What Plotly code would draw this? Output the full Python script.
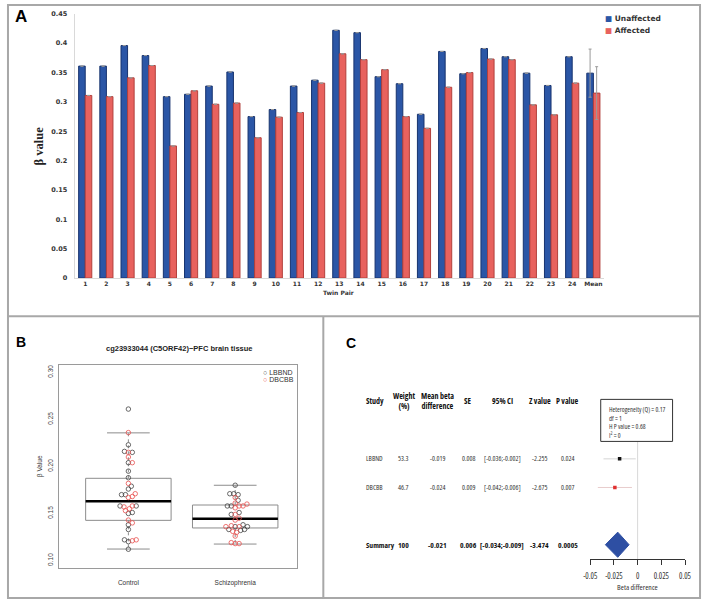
import numpy as np
import plotly.graph_objects as go

W, H = 708, 603
def fx(p): return p / W
def fy(p): return 1 - p / H

# ---------------- Panel A data ----------------
twin_pairs = [str(i) for i in range(1, 25)] + ["Mean"]
unaffected = [0.361, 0.361, 0.396, 0.379, 0.309, 0.313, 0.327, 0.351, 0.275, 0.287,
              0.327, 0.337, 0.422, 0.418, 0.343, 0.331, 0.279, 0.386, 0.348, 0.391,
              0.377, 0.349, 0.328, 0.377, 0.349]
affected = [0.311, 0.309, 0.341, 0.362, 0.225, 0.319, 0.296, 0.298, 0.239, 0.274,
            0.282, 0.332, 0.382, 0.372, 0.355, 0.275, 0.255, 0.325, 0.350, 0.373,
            0.372, 0.295, 0.278, 0.332, 0.315]
unaffected_err = [None] * 24 + [0.041]
affected_err = [None] * 24 + [0.045]
a_ytick_vals = [0, 0.05, 0.1, 0.15, 0.2, 0.25, 0.3, 0.35, 0.4, 0.45]
a_ytick_text = ["0", "0.05", "0.1", "0.15", "0.2", "0.25", "0.3", "0.35", "0.4", "0.45"]

# ---------------- Panel B data ----------------
b_groups = ["Control", "Schizophrenia"]
b_q1 = [0.1427, 0.1346]
b_median = [0.1630, 0.1444]
b_q3 = [0.1874, 0.1590]
b_low = [0.1122, 0.1175]
b_high = [0.2357, 0.1800]
control_lbbnd = [0.261, 0.223, 0.216, 0.215, 0.204, 0.195, 0.188, 0.179, 0.176, 0.170,
                 0.170, 0.158, 0.158, 0.151, 0.150, 0.138, 0.133, 0.122, 0.120, 0.112]
control_dbcbb = [0.236, 0.215, 0.210, 0.204, 0.182, 0.171, 0.168, 0.167, 0.158, 0.157,
                 0.155, 0.153, 0.143, 0.140, 0.122, 0.121]
scz_lbbnd = [0.180, 0.171, 0.170, 0.171, 0.164, 0.158, 0.158, 0.151, 0.149, 0.138,
             0.136, 0.136, 0.133, 0.133, 0.132]
scz_dbcbb = [0.167, 0.161, 0.160, 0.158, 0.158, 0.156, 0.149, 0.145, 0.143, 0.137,
             0.136, 0.136, 0.131, 0.130, 0.126, 0.119, 0.118, 0.118]
b_ytick_vals = [0.10, 0.15, 0.20, 0.25, 0.30]
b_ytick_text = ["0.10", "0.15", "0.20", "0.25", "0.30"]

# ---------------- Panel C data ----------------
c_studies = ["LBBND", "DBCBB"]
c_weight = ["53.3", "46.7"]
c_mean = [-0.019, -0.024]
c_se = ["0.008", "0.009"]
c_lo = [-0.036, -0.042]
c_hi = [-0.002, -0.006]
c_z = ["-2.255", "-2.675"]
c_p = ["0.024", "0.007"]
c_colors = ["#111111", "#e03030"]
c_ci_colors = ["#d4d4d4", "#e8cccc"]
sum_weight = "100"
sum_mean = -0.021
sum_se = "0.006"
sum_lo = -0.034
sum_hi = -0.009
sum_z = "-3.474"
sum_p = "0.0005"
c_xtick_vals = [-0.05, -0.025, 0, 0.025, 0.05]
c_xtick_text = ["-0.05", "-0.025", "0", "0.025", "0.05"]
het_lines = ["Heterogeneity (Q) = 0.17", "df = 1", "H P value = 0.68", "I<sup>2</sup> = 0"]

NARROW = "Open Sans, Liberation Sans, sans-serif"
ARIAL = "Liberation Sans, Arial, sans-serif"
VERD = "DejaVu Sans, Verdana, sans-serif"

def cond(t):
    return "<span style='font-stretch:condensed'>" + t + "</span>"

fig = go.Figure()

fig.add_trace(go.Bar(
    x=twin_pairs, y=unaffected, name="Unaffected", xaxis="x", yaxis="y",
    marker=dict(color="#2b56a6", line=dict(color="#17336e", width=1)),
    error_y=dict(type="data", array=unaffected_err, visible=True,
                 color="#9a9a9a", thickness=1, width=1.5), showlegend=False))
fig.add_trace(go.Bar(
    x=twin_pairs, y=affected, name="Affected", xaxis="x", yaxis="y",
    marker=dict(color="#e8625e", line=dict(color="#b2403c", width=1)),
    error_y=dict(type="data", array=affected_err, visible=True,
                 color="#9a9a9a", thickness=1, width=1.5), showlegend=False))

B_XPX = (296 - 53) / (2.58 - 0.35)
B_YPX = (572 - 366) / (0.3077 - 0.0916)

def swarm(vals, d=4.0):
    vals = np.asarray(vals, float)
    order = np.argsort(vals)
    placed = []
    offs = np.zeros(len(vals))
    for i in order:
        y = vals[i] * B_YPX
        found = None
        k = 0
        while found is None:
            cands = [0.0] if k == 0 else [k * 0.5, -k * 0.5]
            for x in cands:
                if all((x - px) ** 2 + (y - py) ** 2 >= d * d for px, py in placed):
                    found = x
                    break
            k += 1
        placed.append((found, y))
        offs[i] = found / B_XPX
    return offs

half = 0.4
cap = 0.2
bx, by, mx, my, wx, wy, cx, cy = [], [], [], [], [], [], [], []
for i in range(2):
    p = i + 1
    bx += [p - half, p + half, p + half, p - half, p - half, None]
    by += [b_q1[i], b_q1[i], b_q3[i], b_q3[i], b_q1[i], None]
    mx += [p - half, p + half, None]
    my += [b_median[i], b_median[i], None]
    wx += [p, p, None, p, p, None]
    wy += [b_q3[i], b_high[i], None, b_q1[i], b_low[i], None]
    cx += [p - cap, p + cap, None, p - cap, p + cap, None]
    cy += [b_high[i], b_high[i], None, b_low[i], b_low[i], None]

for xs, ys, ln in [(wx, wy, dict(color="#8c8c8c", width=1, dash="dot")),
                   (cx, cy, dict(color="#8c8c8c", width=1)),
                   (bx, by, dict(color="#8c8c8c", width=1)),
                   (mx, my, dict(color="#000000", width=2.6))]:
    fig.add_trace(go.Scatter(x=xs, y=ys, mode="lines", xaxis="x2", yaxis="y2", line=ln,
                             showlegend=False, hoverinfo="skip"))

ptsx = {"LBBND": [], "DBCBB": []}
ptsy = {"LBBND": [], "DBCBB": []}
for gi, (lb, db) in enumerate([(control_lbbnd, control_dbcbb), (scz_lbbnd, scz_dbcbb)]):
    allv = list(lb) + list(db)
    labs = ["LBBND"] * len(lb) + ["DBCBB"] * len(db)
    offs = swarm(allv)
    for v, lab, o in zip(allv, labs, offs):
        ptsx[lab].append(gi + 1 + o)
        ptsy[lab].append(v)

for lab, col in [("LBBND", "#444444"), ("DBCBB", "#e8504f")]:
    fig.add_trace(go.Scatter(
        x=ptsx[lab], y=ptsy[lab], mode="markers", name=lab, xaxis="x2", yaxis="y2",
        marker=dict(symbol="circle-open", size=4.5, color=col, line=dict(width=0.8, color=col)),
        showlegend=False))

c_rows = [3, 2]
for i in range(2):
    fig.add_trace(go.Scatter(x=[c_lo[i], c_hi[i]], y=[c_rows[i]] * 2, mode="lines",
                             xaxis="x3", yaxis="y3", line=dict(color=c_ci_colors[i], width=1),
                             showlegend=False, hoverinfo="skip"))
    fig.add_trace(go.Scatter(x=[c_mean[i]], y=[c_rows[i]], mode="markers",
                             xaxis="x3", yaxis="y3",
                             marker=dict(symbol="square", size=3.5, color=c_colors[i]),
                             showlegend=False, hoverinfo="skip"))
dh = 0.44
fig.add_trace(go.Scatter(x=[sum_lo, sum_mean, sum_hi, sum_mean, sum_lo],
                         y=[0, dh, 0, -dh, 0], mode="lines", fill="toself",
                         fillcolor="#2e4fa3", line=dict(color="#2e4fa3", width=1),
                         xaxis="x3", yaxis="y3", showlegend=False, hoverinfo="skip"))

annotations = []
def ann(text, x, y, size, color="#000", family=ARIAL, xanchor="center", yanchor="middle",
        xref="paper", yref="paper", angle=0, align="center", bold=False, narrow=False):
    if bold:
        text = "<b>" + text + "</b>"
    if narrow:
        text = cond(text)
    annotations.append(dict(text=text, x=x, y=y, xref=xref, yref=yref, showarrow=False,
                            xanchor=xanchor, yanchor=yanchor, textangle=angle, align=align,
                            font=dict(size=size, color=color, family=family)))

ann("A", fx(6), fy(13), 17, family=ARIAL, xanchor="left", bold=True)
ann("B", fx(7), fy(343), 14, family=ARIAL, xanchor="left", bold=True)
ann("C", fx(344), fy(344), 14, family=ARIAL, xanchor="left", bold=True)

ann("β value", fx(33), fy(144), 12.5, family="Liberation Serif, Times New Roman, serif",
    angle=-90, bold=True, color="#222")
ann("Twin Pair", fx(338), fy(292), 6, family=VERD, bold=True, color="#333")

# legend A
ann("<span style='color:#2b56a6'>\u25a0</span> Unaffected", fx(608), fy(15), 7.5, family=VERD,
    xanchor="left", bold=True, color="#333")
ann("<span style='color:#e8625e'>\u25a0</span> Affected", fx(608), fy(27), 7.5, family=VERD,
    xanchor="left", bold=True, color="#333")
# legend B
ann("<span style='color:#444'>\u25cb</span> LBBND", fx(259), fy(373), 7, xanchor="left", color="#333")
ann("<span style='color:#e8504f'>\u25cb</span> DBCBB", fx(259), fy(381), 7, xanchor="left", color="#333")

ann("cg23933044 (C5ORF42)\u2212PFC brain tissue", fx(176), fy(349), 7.5, bold=True, color="#222")
ann("\u03b2 Value", fx(33), fy(468), 6.5, angle=-90, color="#333")

hdr_y = fy(401.5)
col_x = [364, 405, 439, 470.5, 505, 543.5, 572]
headers = ["Study", "Weight<br>(%)", "Mean beta<br>difference", "SE", "95% CI", "Z value", "P value"]
for j, (hx, ht) in enumerate(zip(col_x, headers)):
    ann(ht, fx(hx), hdr_y, 8, family=NARROW, bold=True, narrow=True,
        xanchor="left" if j == 0 else "center", color="#111")
for i in range(2):
    vals = [c_studies[i], c_weight[i], "%.3f" % c_mean[i], c_se[i],
            "[%.3f;%.3f]" % (c_lo[i], c_hi[i]), c_z[i], c_p[i]]
    for j, (hx, v) in enumerate(zip(col_x, vals)):
        ann(v, fx(hx), c_rows[i], 7, family=NARROW, narrow=True,
            xanchor="left" if j == 0 else "center", yref="y3", color="#333")
svals = ["Summary", sum_weight, "%.3f" % sum_mean, sum_se,
         "[%.3f;%.3f]" % (sum_lo, sum_hi), sum_z, sum_p]
for j, (hx, v) in enumerate(zip(col_x, svals)):
    ann(v, fx(hx), 0, 7.6, family=NARROW, narrow=True, xanchor="left" if j == 0 else "center",
        yref="y3", bold=True, color="#111")
ann("Beta difference", fx(643), fy(591), 7.8, family=NARROW, narrow=True, color="#333")
ann("<br>".join(het_lines), fx(612), fy(404), 6.7, family=NARROW, narrow=True, xanchor="left",
    yanchor="top", align="left", color="#333")

shapes = [
    dict(type="rect", xref="paper", yref="paper", x0=fx(1), x1=fx(707), y0=fy(602), y1=fy(1),
         line=dict(color="#a8a8a8", width=2)),
    dict(type="line", xref="paper", yref="paper", x0=0, x1=1, y0=fy(316.5), y1=fy(316.5),
         line=dict(color="#a8a8a8", width=2)),
    dict(type="line", xref="paper", yref="paper", x0=fx(322.7), x1=fx(322.7), y0=0, y1=fy(316.5),
         line=dict(color="#a8a8a8", width=2)),
    dict(type="line", xref="x3", yref="y3 domain", x0=0, x1=0, y0=0, y1=1,
         line=dict(color="#d8d8d8", width=1), layer="below"),
    dict(type="rect", xref="paper", yref="paper", x0=fx(605.7), x1=fx(679), y0=fy(443.3), y1=fy(400.7),
         line=dict(color="#333333", width=1), fillcolor="white"),
]

fig.update_layout(
    width=W, height=H, margin=dict(l=0, r=0, t=0, b=0),
    paper_bgcolor="white", plot_bgcolor="rgba(0,0,0,0)",
    barmode="group", bargap=0.38, bargroupgap=0.0,
    showlegend=False,
    xaxis=dict(domain=[fx(69), fx(609)], range=[-0.5, 24.5], type="category",
               showline=True, linecolor="#d9d9d9", linewidth=1, ticks="",
               tickfont=dict(size=6, family=VERD, color="#333", weight="bold"),
               showgrid=False, zeroline=False, anchor="y"),
    yaxis=dict(domain=[fy(277.7), fy(10)], range=[0, 0.45], tickvals=a_ytick_vals,
               ticktext=a_ytick_text, showline=True, linecolor="#d9d9d9", linewidth=1,
               ticks="", ticklabelstandoff=5,
               tickfont=dict(size=6.5, family=VERD, color="#333", weight="bold"),
               showgrid=False, zeroline=False, anchor="x"),
    xaxis2=dict(domain=[fx(53), fx(296)], range=[0.35, 2.58], tickvals=[1, 2],
                ticktext=b_groups, showline=True, mirror=True, linecolor="#9a9a9a",
                linewidth=1, ticks="", ticklabelstandoff=8,
                tickfont=dict(size=6.5, family=ARIAL, color="#333"),
                showgrid=False, zeroline=False, anchor="y2"),
    yaxis2=dict(domain=[fy(572), fy(366)], range=[0.0916, 0.3077], tickvals=b_ytick_vals,
                ticktext=b_ytick_text, showline=True, mirror=True, linecolor="#9a9a9a",
                linewidth=1, ticks="", tickangle=-90, ticklabelstandoff=2,
                tickfont=dict(size=6.5, family=ARIAL, color="#444"),
                showgrid=False, zeroline=False, anchor="x2"),
    xaxis3=dict(domain=[fx(595), fx(691.7)], range=[-0.05, 0.05], tickvals=c_xtick_vals,
                ticktext=[cond(t) for t in c_xtick_text], showline=True, linecolor="#333",
                linewidth=1, ticks="outside", ticklen=5, tickcolor="#333", ticklabelstandoff=4,
                tickfont=dict(size=8, family=NARROW, color="#333"),
                showgrid=False, zeroline=False, anchor="y3"),
    yaxis3=dict(domain=[fy(562.5), fy(443)], range=[-0.5, 3.62], visible=False,
                showgrid=False, zeroline=False, anchor="x3"),
    annotations=annotations, shapes=shapes,
)

fig.write_html("out.html", config={"displayModeBar": False},
               post_script="document.body.style.margin='0';")
